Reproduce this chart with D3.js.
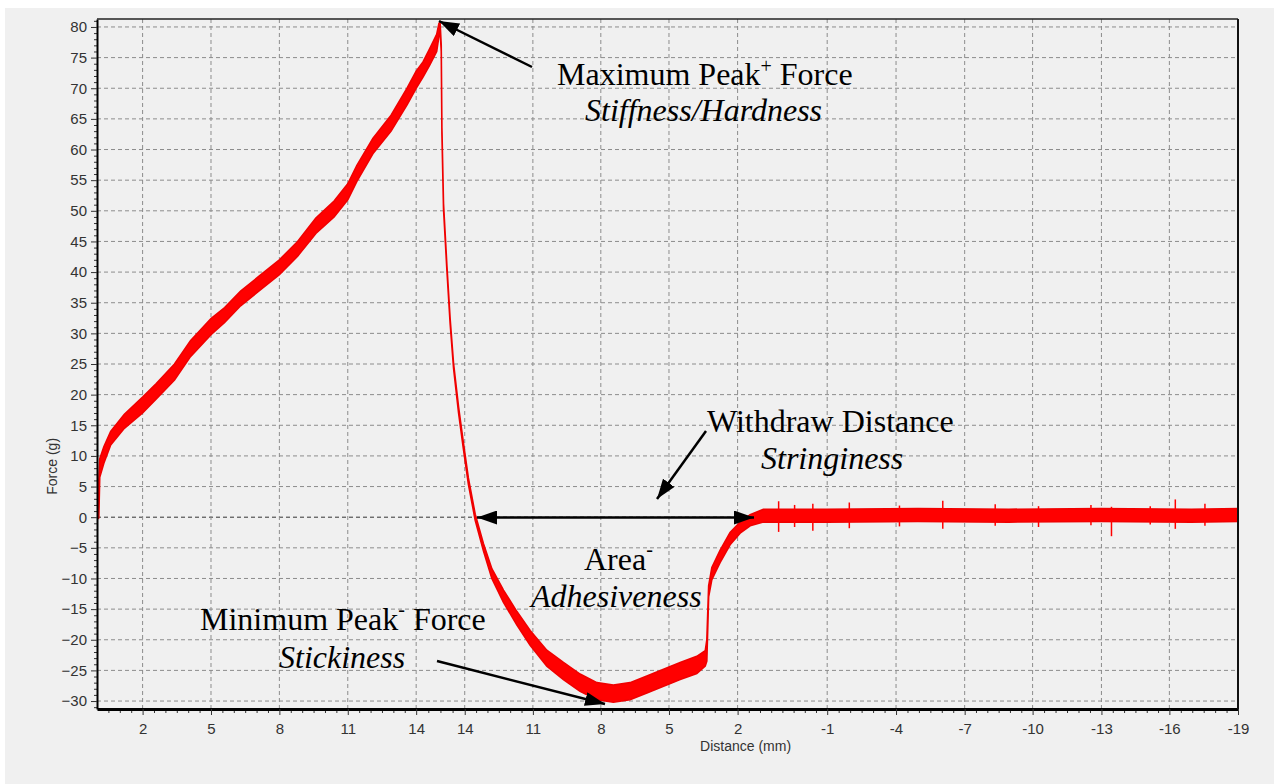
<!DOCTYPE html>
<html>
<head>
<meta charset="utf-8">
<script src="https://cdn.jsdelivr.net/npm/d3@7"></script>
<style>
  body { margin: 0; background: #fff; }
  .tick text { font-family: "Liberation Sans", Arial, sans-serif; font-size: 15px; fill: #333; }
  .note { font-family: "Liberation Serif", "Times New Roman", serif; font-size: 32px; fill: #000; }
</style>
</head>
<body>
<div id="chart"></div>
<script>
// probe travel along the test (mm), the axis shows distance going up then back down
const travel = [0.06, 0.08, 0.12, 0.3, 0.6, 1.2, 2.0, 2.6, 3.4, 4.1, 5.0, 5.6, 6.3, 7.0, 8.0, 8.8, 9.6, 10.4, 11.0, 11.4,
  12.1, 12.9, 13.6, 14.0, 14.3, 14.6, 14.9, 15.0, 15.05, 15.1, 15.13, 15.2, 15.35, 15.49, 15.64, 15.86, 16.07, 16.29,
  16.59, 16.95, 17.32, 17.83, 18.42, 19.0, 19.73, 20.46, 21.19, 21.93, 22.65, 23.38, 24.12, 24.85, 25.58, 26.31,
  26.68, 26.75, 26.83, 26.97, 27.33, 27.77, 28.21, 28.65, 29.23, 32, 36, 40, 44, 48, 50.05];
const forceLow = [-0.3, 0, 6.5, 8.8, 11.8, 14.5, 17, 19.3, 22.4, 26.2, 29.8, 31.8, 34.5, 36.6, 39.6, 42.6, 46.3, 49, 51.8, 54.8,
  59.3, 63, 67.3, 70, 71.8, 73.8, 76, 78.5, 79.5, 76, 62.5, 50.3, 40.2, 31.6, 24.3, 17, 11.2, 5.4,
  -0.5, -5.5, -10, -13.9, -17.6, -20.9, -24.3, -26.5, -28.4, -29.8, -30.2, -29.8, -28.7, -27.6, -26.5, -25.5,
  -24.3, -23.5, -13, -10.2, -7.4, -4.5, -2.6, -1.4, -0.8, -0.8, -0.7, -0.8, -0.7, -0.8, -0.7];
const forceHigh = [0.3, 6, 9.5, 11.5, 14, 16.8, 19.6, 21.8, 25, 28.8, 32.4, 34.2, 36.9, 39, 42, 45, 48.8, 51.6, 54.4, 57.4,
  61.8, 65.6, 70, 72.8, 74.3, 76.5, 78.8, 80.6, 80.8, 77, 63.5, 51.2, 41, 32.4, 25.1, 18, 12.2, 6.4,
  0.5, -4.3, -8.4, -11.9, -15.4, -18.5, -21.7, -23.7, -25.6, -27, -27.4, -27, -25.9, -24.8, -23.7, -22.7,
  -21.8, -20, -11.2, -8.2, -5.4, -2.5, -0.8, 0.4, 1.3, 1.3, 1.4, 1.3, 1.4, 1.3, 1.4];

// a few of the larger noise spikes visible on the baseline
const spikeTravel = [29.9, 30.6, 31.4, 33.0, 35.2, 37.1, 39.4, 41.3, 43.6, 44.5, 46.2, 47.3, 48.6];
const spikeLow = [-2.4, -1.6, -2.2, -1.8, -1.5, -1.9, -1.4, -1.6, -1.3, -3.1, -1.2, -1.9, -1.4];
const spikeHigh = [2.6, 2.0, 2.2, 2.4, 1.9, 2.7, 2.1, 1.8, 2.0, 1.7, 1.8, 2.9, 2.2];

const xTickPos = [2, 5, 8, 11, 14, 16.13, 19.12, 22.1, 25.09, 28.1, 32.03, 35.05, 38.06, 41.04, 44.06, 47.04, 50.05];
const xTickLabels = ["2", "5", "8", "11", "14", "14", "11", "8", "5", "2", "-1", "-4", "-7", "-10", "-13", "-16", "-19"];
const yTicks = [-30, -25, -20, -15, -10, -5, 0, 5, 10, 15, 20, 25, 30, 35, 40, 45, 50, 55, 60, 65, 70, 75, 80];

const W = 1274, H = 784;
const margin = {top: 19, right: 36, bottom: 75, left: 97};
const width = W - margin.left - margin.right, height = H - margin.top - margin.bottom;

const svg = d3.select("#chart").append("svg")
    .attr("width", W)
    .attr("height", H);

svg.append("rect").attr("x", 5).attr("y", 8).attr("width", W - 5).attr("height", H - 8).attr("fill", "#f0f0f0");

const defs = svg.append("defs");
defs.append("marker")
    .attr("id", "head")
    .attr("markerUnits", "userSpaceOnUse")
    .attr("viewBox", "0 0 20 14")
    .attr("markerWidth", 20).attr("markerHeight", 14)
    .attr("refX", 20).attr("refY", 7)
    .attr("orient", "auto-start-reverse")
    .append("path").attr("d", "M0,0 L20,7 L0,14 Z").attr("fill", "#000");

const g = svg.append("g")
    .attr("transform", "translate(" + margin.left + "," + margin.top + ")");

const x = d3.scaleLinear().domain([0, 50.05]).range([0, width]);
const y = d3.scaleLinear().domain([-31.3, 81.3]).range([height, 0]);

// grid
g.selectAll(".hgrid").data(yTicks).enter().append("line")
    .attr("x1", 0).attr("x2", width)
    .attr("y1", d => y(d)).attr("y2", d => y(d))
    .attr("stroke", d => d === 0 ? "#333" : "#8c8c8c")
    .attr("stroke-width", 1)
    .attr("stroke-dasharray", "4,3");
g.selectAll(".vgrid").data(xTickPos).enter().append("line")
    .attr("x1", d => x(d)).attr("x2", d => x(d))
    .attr("y1", 0).attr("y2", height)
    .attr("stroke", "#8c8c8c")
    .attr("stroke-dasharray", "4,3");

// force trace
const pts = travel.map((t, i) => ({t: t, lo: forceLow[i], hi: forceHigh[i]}));
const band = d3.area().x(d => x(d.t)).y0(d => y(d.lo)).y1(d => y(d.hi));
g.append("path").datum(pts)
    .attr("d", band)
    .attr("fill", "#ff0000")
    .attr("stroke", "#f00000")
    .attr("stroke-width", 1.6);

g.selectAll(".spike").data(spikeTravel).enter().append("line")
    .attr("x1", d => x(d)).attr("x2", d => x(d))
    .attr("y1", (d, i) => y(spikeLow[i])).attr("y2", (d, i) => y(spikeHigh[i]))
    .attr("stroke", "#ff0000").attr("stroke-width", 1.5);

// minor ticks
const yMinor = d3.range(-31, 82, 1).filter(v => v % 5 !== 0);
const xMinor = [];
const xStops = [0].concat(xTickPos);
for (let i = 0; i < xStops.length - 1; i++) {
    const a = xStops[i], b = xStops[i + 1];
    const n = Math.max(1, Math.round((b - a) / 0.5));
    for (let k = 1; k < n; k++) xMinor.push(a + (b - a) * k / n);
}
g.append("g").call(d3.axisLeft(y).tickValues(yMinor).tickSize(3).tickFormat(""))
    .call(a => a.select(".domain").remove())
    .selectAll("line").attr("stroke", "#333");
g.append("g").attr("transform", "translate(0," + height + ")")
    .call(d3.axisBottom(x).tickValues(xMinor).tickSize(4).tickFormat(""))
    .call(a => a.select(".domain").remove())
    .selectAll("line").attr("stroke", "#333");

// axes
const yAxis = g.append("g").call(d3.axisLeft(y).tickValues(yTicks).tickSize(6).tickPadding(4).tickSizeOuter(0));
yAxis.select(".domain").attr("stroke", "#000").attr("stroke-width", 2);
yAxis.selectAll(".tick line").attr("stroke", "#333");

const xAxis = g.append("g").attr("transform", "translate(0," + height + ")")
    .call(d3.axisBottom(x).tickValues(xTickPos).tickFormat((d, i) => xTickLabels[i]).tickSize(6).tickPadding(8).tickSizeOuter(0));
xAxis.select(".domain").attr("stroke", "#000").attr("stroke-width", 3);
xAxis.selectAll(".tick line").attr("stroke", "#333");

// frame top and right
g.append("line").attr("x1", 0).attr("x2", width).attr("y1", 0).attr("y2", 0).attr("stroke", "#222").attr("stroke-width", 1.5);
g.append("line").attr("x1", width).attr("x2", width).attr("y1", 0).attr("y2", height).attr("stroke", "#111").attr("stroke-width", 2);

// axis titles
g.append("text")
    .attr("x", x(28.45)).attr("y", height + 42)
    .style("text-anchor", "middle")
    .style("font-family", "Liberation Sans, Arial, sans-serif").style("font-size", "14px").style("fill", "#333")
    .text("Distance (mm)");
g.append("text")
    .attr("transform", "rotate(-90)")
    .attr("x", -(y(8.3)))
    .attr("y", -40)
    .style("text-anchor", "middle")
    .style("font-family", "Liberation Sans, Arial, sans-serif").style("font-size", "14px").style("fill", "#333")
    .text("Force (g)");

// annotations (page coordinates)
function note(px, py, parts, italic) {
    const t = svg.append("text").attr("class", "note").attr("x", px).attr("y", py)
        .style("font-style", italic ? "italic" : "normal");
    parts.forEach(p => {
        const s = t.append("tspan").text(p.text);
        if (p.sup) s.attr("dy", p.dy).style("font-size", "20px");
        if (p.back) s.attr("dy", p.back);
    });
}
note(557, 85, [{text: "Maximum Peak"}, {text: "+", sup: true, dy: -12}, {text: " Force", back: 12}]);
note(585, 121, [{text: "Stiffness/Hardness"}], true);
note(707, 432, [{text: "Withdraw Distance"}]);
note(761, 469, [{text: "Stringiness"}], true);
note(584, 570, [{text: "Area"}, {text: "-", sup: true, dy: -14}]);
note(531, 607, [{text: "Adhesiveness"}], true);
note(200, 630, [{text: "Minimum Peak"}, {text: "-", sup: true, dy: -14}, {text: " Force", back: 14}]);
note(279, 668, [{text: "Stickiness"}], true);

function arrow(x1, y1, x2, y2, both) {
    const l = svg.append("line").attr("x1", x1).attr("y1", y1).attr("x2", x2).attr("y2", y2)
        .attr("stroke", "#000").attr("stroke-width", 2.5)
        .attr("marker-end", "url(#head)");
    if (both) l.attr("marker-start", "url(#head)");
}
arrow(532, 67, 439, 21);
arrow(706, 431, 657, 499);
arrow(477, 517.5, 754, 517.5, true);
arrow(437, 661, 605, 704);
</script>
</body>
</html>
